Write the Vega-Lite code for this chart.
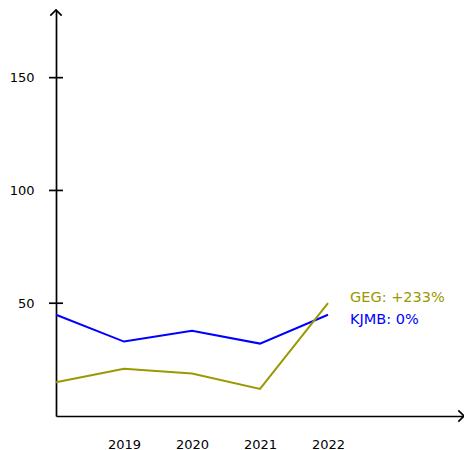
{
  "$schema": "https://vega.github.io/schema/vega-lite/v6.json",
  "width": 408,
  "height": 406,
  "autosize": "none",
  "padding": {"left": 56, "top": 10, "right": 0, "bottom": 34},
  "background": "white",
  "config": {
    "view": {"stroke": null},
    "font": "DejaVu Sans",
    "axis": {"grid": false, "labelFont": "DejaVu Sans", "labelFontSize": 13, "labelColor": "black", "domainColor": "black", "domainWidth": 1.7, "ticks": false, "tickSize": 0, "title": null}
  },
  "datasets": {
    "series": [
      {"year": 2018, "series": "KJMB", "value": 44.9},
      {"year": 2019, "series": "KJMB", "value": 33.0},
      {"year": 2020, "series": "KJMB", "value": 37.8},
      {"year": 2021, "series": "KJMB", "value": 32.1},
      {"year": 2022, "series": "KJMB", "value": 44.9},
      {"year": 2018, "series": "GEG", "value": 15.0},
      {"year": 2019, "series": "GEG", "value": 20.9},
      {"year": 2020, "series": "GEG", "value": 18.8},
      {"year": 2021, "series": "GEG", "value": 12.0},
      {"year": 2022, "series": "GEG", "value": 50.0}
    ],
    "yticks": [{"year": 2018, "value": 50}, {"year": 2018, "value": 100}, {"year": 2018, "value": 150}],
    "uparrow": [{"year": 2018, "value": 180}],
    "rightarrow": [{"year": 2024, "value": 0}]
  },
  "layer": [
    {
      "data": {"name": "series"},
      "mark": {"type": "line", "strokeWidth": 2, "clip": false},
      "encoding": {
        "x": {"field": "year", "type": "quantitative", "scale": {"domain": [2018, 2024], "nice": false, "zero": false},
          "axis": {"values": [2019, 2020, 2021, 2022], "format": "d", "labelPadding": 22}},
        "y": {"field": "value", "type": "quantitative", "scale": {"domain": [0, 180], "nice": false},
          "axis": {"values": [50, 100, 150], "labelPadding": 22}},
        "color": {"field": "series", "type": "nominal", "scale": {"domain": ["GEG", "KJMB"], "range": ["#999900", "#0000ff"]}, "legend": null}
      }
    },
    {
      "data": {"name": "series"},
      "transform": [{"filter": "datum.year == 2022 && datum.series == 'GEG'"}],
      "mark": {"type": "text", "text": "GEG: +233%", "align": "left", "baseline": "middle", "dx": 22, "dy": -5, "fontSize": 14.5, "color": "#999900"},
      "encoding": {
        "x": {"field": "year", "type": "quantitative"},
        "y": {"field": "value", "type": "quantitative"}
      }
    },
    {
      "data": {"name": "series"},
      "transform": [{"filter": "datum.year == 2022 && datum.series == 'KJMB'"}],
      "mark": {"type": "text", "text": "KJMB: 0%", "align": "left", "baseline": "middle", "dx": 22, "dy": 5, "fontSize": 14.5, "color": "#0000ff"},
      "encoding": {
        "x": {"field": "year", "type": "quantitative"},
        "y": {"field": "value", "type": "quantitative"}
      }
    },
    {
      "data": {"name": "yticks"},
      "mark": {"type": "tick", "orient": "horizontal", "size": 14, "thickness": 1.7, "color": "black", "opacity": 1},
      "encoding": {
        "x": {"field": "year", "type": "quantitative"},
        "y": {"field": "value", "type": "quantitative"}
      }
    },
    {
      "data": {"name": "uparrow"},
      "mark": {"type": "point", "shape": "M-1,1L0,0L1,1", "size": 130, "filled": false, "color": "black", "strokeWidth": 1.7, "opacity": 1, "clip": false},
      "encoding": {
        "x": {"field": "year", "type": "quantitative"},
        "y": {"field": "value", "type": "quantitative"}
      }
    },
    {
      "data": {"name": "rightarrow"},
      "mark": {"type": "point", "shape": "M-1,-1L0,0L-1,1", "size": 130, "filled": false, "color": "black", "strokeWidth": 1.7, "opacity": 1, "clip": false},
      "encoding": {
        "x": {"field": "year", "type": "quantitative"},
        "y": {"field": "value", "type": "quantitative"}
      }
    }
  ]
}
